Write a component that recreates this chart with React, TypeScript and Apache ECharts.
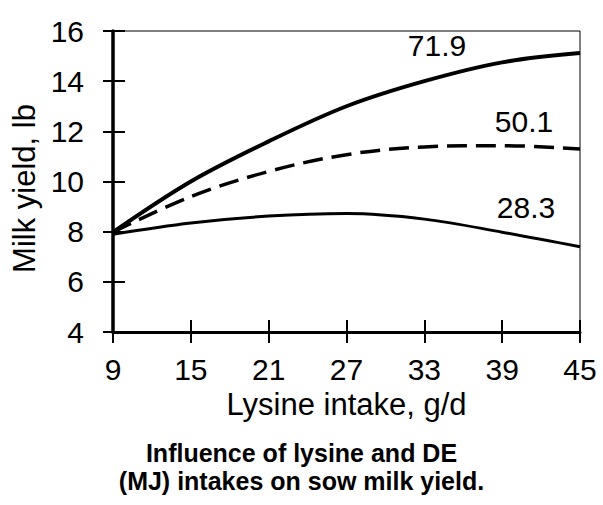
import React, { useEffect, useRef } from "react";
import * as echarts from "echarts";

const lysineIntake = ["9", "15", "21", "27", "33", "39", "45"];
const de719 = [7.98, 10.0, 11.6, 13.0, 14.0, 14.75, 15.12];
const de501 = [7.98, 9.4, 10.4, 11.07, 11.38, 11.43, 11.3];
const de283 = [7.9, 8.35, 8.62, 8.72, 8.5, 7.98, 7.4];
const seriesNames = ["71.9", "50.1", "28.3"];
const yMin = 4;
const yMax = 16;
const yStep = 2;

const FONT = "'Liberation Sans', Arial, sans-serif";

export default function App() {
  const ref = useRef<HTMLDivElement>(null);
  useEffect(() => {
    if (!ref.current) return;
    const chart = echarts.init(ref.current, null, { renderer: "svg" });
    const baseX = {
      type: "category",
      data: lysineIntake,
      boundaryGap: false,
      gridIndex: 0,
    };
    const baseY = {
      type: "value",
      min: yMin,
      max: yMax,
      interval: yStep,
      gridIndex: 0,
      splitLine: { show: false },
    };
    chart.setOption({
      animation: false,
      backgroundColor: "#ffffff",
      textStyle: { fontFamily: FONT, color: "#000" },
      title: {
        text: "Influence of lysine and DE\n(MJ) intakes on sow milk yield.",
        left: "center",
        top: 439,
        padding: 0,
        textStyle: {
          fontFamily: FONT,
          fontSize: 25,
          fontWeight: "bold",
          lineHeight: 28,
          color: "#000",
          align: "center",
        },
      },
      grid: {
        left: 113,
        top: 31,
        right: 23,
        bottom: 173,
        show: true,
        borderColor: "#000",
        borderWidth: 1,
        backgroundColor: "transparent",
        containLabel: false,
      },
      xAxis: [
        {
          ...baseX,
          name: "Lysine intake, g/d",
          nameLocation: "middle",
          nameGap: 36,
          nameTextStyle: { fontFamily: FONT, fontSize: 31, color: "#000" },
          axisLine: { show: true, lineStyle: { color: "#000", width: 3 } },
          axisTick: { show: true, inside: false, length: 11, lineStyle: { color: "#000", width: 2 } },
          axisLabel: { show: true, margin: 22, fontFamily: FONT, fontSize: 30, color: "#000" },
        },
        {
          ...baseX,
          position: "bottom",
          axisLine: { show: false },
          axisTick: { show: true, inside: true, length: 12, lineStyle: { color: "#000", width: 2 } },
          axisLabel: { show: false },
        },
      ],
      yAxis: [
        {
          ...baseY,
          name: "Milk yield, lb",
          nameLocation: "middle",
          nameGap: 72,
          nameRotate: 90,
          nameTextStyle: { fontFamily: FONT, fontSize: 31, color: "#000", padding: [0, 14, 0, 0] },
          axisLine: { show: true, lineStyle: { color: "#000", width: 3.5 } },
          axisTick: { show: true, inside: false, length: 10, lineStyle: { color: "#000", width: 2 } },
          axisLabel: { show: true, margin: 29, fontFamily: FONT, fontSize: 30, color: "#000" },
        },
        {
          ...baseY,
          position: "left",
          axisLine: { show: false },
          axisTick: { show: true, inside: true, length: 12, lineStyle: { color: "#000", width: 2 } },
          axisLabel: { show: false },
        },
      ],
      series: [
        {
          name: seriesNames[0],
          type: "line",
          data: de719,
          smooth: 0.35,
          symbol: "none",
          lineStyle: { color: "#000", width: 4 },
        },
        {
          name: seriesNames[1],
          type: "line",
          data: de501,
          smooth: 0.35,
          symbol: "none",
          lineStyle: { color: "#000", width: 3.5, type: [20, 9] },
        },
        {
          name: seriesNames[2],
          type: "line",
          data: de283,
          smooth: 0.35,
          symbol: "none",
          lineStyle: { color: "#000", width: 3 },
        },
      ],
      graphic: [
        {
          type: "text",
          x: 437,
          y: 45,
          style: { text: seriesNames[0], fontFamily: FONT, fontSize: 30, fill: "#000", align: "center", verticalAlign: "middle" },
        },
        {
          type: "text",
          x: 524,
          y: 121,
          style: { text: seriesNames[1], fontFamily: FONT, fontSize: 30, fill: "#000", align: "center", verticalAlign: "middle" },
        },
        {
          type: "text",
          x: 526,
          y: 207,
          style: { text: seriesNames[2], fontFamily: FONT, fontSize: 30, fill: "#000", align: "center", verticalAlign: "middle" },
        },
      ],
    });
    return () => chart.dispose();
  }, []);
  return (
    <div
      ref={ref}
      style={{ position: "absolute", left: 0, top: 0, width: 603, height: 505 }}
    />
  );
}
